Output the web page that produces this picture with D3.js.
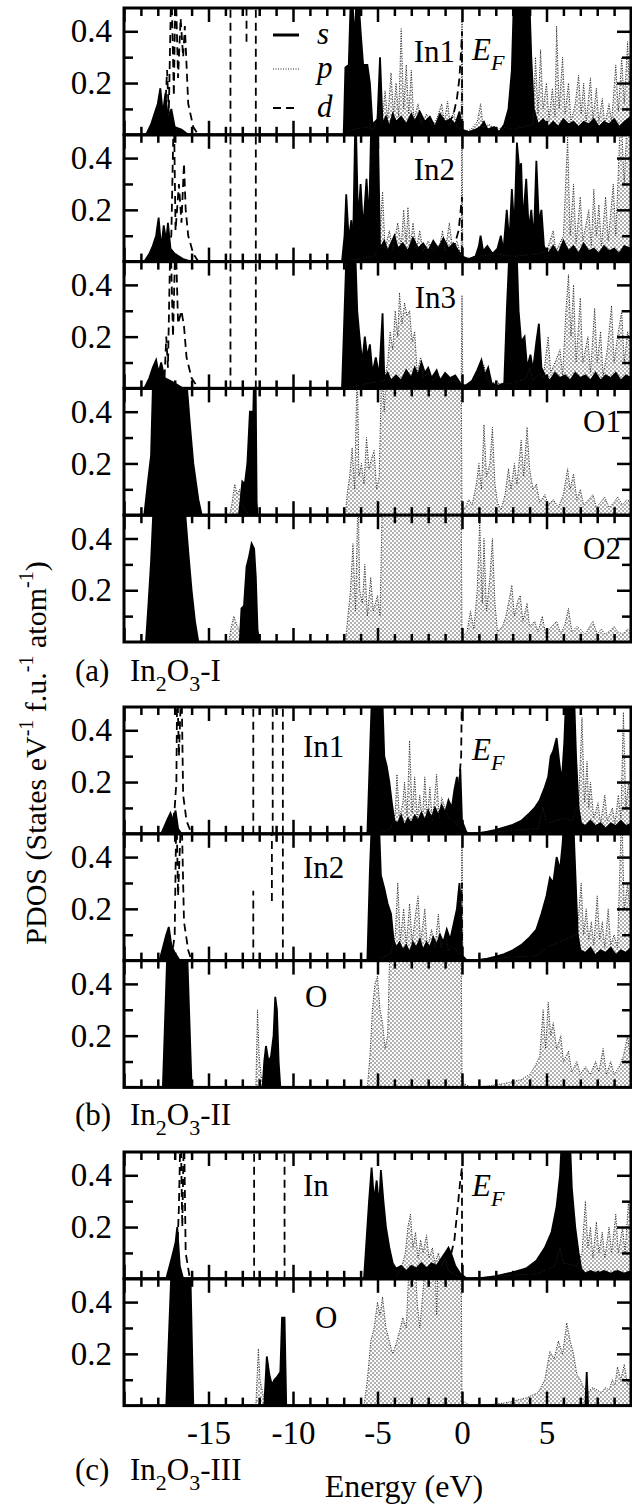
<!DOCTYPE html>
<html>
<head>
<meta charset="utf-8">
<script src="https://cdn.jsdelivr.net/npm/d3@7"></script>
<style>
  body { margin: 0; background: #fff; }
  text { font-family: "Liberation Serif", "Times New Roman", serif; fill: #000; }
  .tick line { stroke: #000; stroke-width: 2.5; }
  .domain { display: none; }
</style>
</head>
<body>
<div id="chart"></div>
<script>
const WIDTH = 632;
const HEIGHT = 1509;

// energy ticks (eV) and PDOS ticks
const majorTicks = [-20, -15, -10, -5, 0, 5, 10];
const minorTicks = [-19,-18,-17,-16,-14,-13,-12,-11,-9,-8,-7,-6,-4,-3,-2,-1,1,2,3,4,6,7,8,9];
const labelTicks = [-15, -10, -5, 0, 5];
const yMajor = [0.2, 0.4];
const yMinor = [0.1, 0.3];

// ---- (a) In2O3-I ----  (d series: null splits a line into pieces)
const a_In1_s = [[-18.7,0],[-18.4,0.04],[-18.2,0.08],[-18.0,0.12],[-17.85,0.18],[-17.7,0.08],[-17.55,0.16],[-17.4,0.06],[-17.2,0.1],[-17.0,0.03],[-16.6,0.02],[-16.2,0],
  [-7.0,0],[-6.9,0.26],[-6.7,0.27],[-6.55,0.6],[-6.35,0.36],[-6.2,0.6],[-6.0,0.4],[-5.85,0.27],[-5.6,0.27],[-5.45,0.2],[-5.3,0.04],[-5.0,0.06],[-4.85,0.3],[-4.7,0.04],[-4.5,0.07],[-4.3,0.03],[-4.1,0.08],[-3.9,0.05],[-3.6,0.07],[-3.3,0.04],[-3.0,0.08],[-2.8,0.05],[-2.5,0.09],[-2.2,0.05],[-1.9,0.07],[-1.6,0.03],[-1.3,0.08],[-1.0,0.05],[-0.7,0.06],[-0.4,0.04],[-0.15,0.09],[0,0.02],[0.4,0.01],[0.8,0.02],[1.1,0.03],[1.3,0.05],[1.5,0.02],[1.9,0.03],[2.2,0.01],[2.5,0.04],[2.75,0.1],[2.95,0.25],[3.1,0.6],[3.95,0.6],[4.1,0.3],[4.25,0.1],[4.5,0.04],[4.8,0.06],[5.1,0.03],[5.4,0.05],[5.7,0.03],[6.0,0.06],[6.3,0.04],[6.6,0.05],[6.9,0.03],[7.2,0.05],[7.5,0.04],[7.8,0.06],[8.1,0.03],[8.4,0.05],[8.7,0.04],[9.0,0.06],[9.3,0.03],[9.6,0.05],[10,0.07]];
const a_In1_p = [[-7.0,0],[-6.5,0.02],[-5.6,0.03],[-5.2,0.02],[-4.9,0.1],[-4.75,0.04],[-4.55,0.17],[-4.4,0.06],[-4.2,0.24],[-4.05,0.08],[-3.9,0.2],[-3.75,0.07],[-3.6,0.41],[-3.45,0.1],[-3.3,0.27],[-3.15,0.08],[-3.0,0.25],[-2.85,0.06],[-2.6,0.12],[-2.4,0.04],[-2.1,0.08],[-1.8,0.04],[-1.5,0.06],[-1.2,0.12],[-1.05,0.05],[-0.85,0.13],[-0.7,0.04],[-0.5,0.09],[-0.3,0.03],[-0.05,0.02],[0,0.6],[0.05,0.01],[0.5,0.02],[0.9,0.05],[1.1,0.12],[1.25,0.03],[1.6,0.04],[2.0,0.02],[2.5,0.03],[3.0,0.02],[4.2,0.04],[4.35,0.3],[4.5,0.08],[4.65,0.33],[4.8,0.1],[5.0,0.2],[5.15,0.06],[5.35,0.18],[5.5,0.07],[5.6,0.42],[5.75,0.1],[5.95,0.3],[6.1,0.08],[6.3,0.2],[6.45,0.05],[6.7,0.12],[6.9,0.23],[7.05,0.08],[7.2,0.2],[7.35,0.05],[7.6,0.22],[7.75,0.06],[7.95,0.18],[8.1,0.05],[8.3,0.14],[8.45,0.04],[8.7,0.12],[8.85,0.05],[9.1,0.27],[9.25,0.09],[9.45,0.3],[9.6,0.12],[9.8,0.36],[9.9,0.2],[10,0.4]];
const a_In1_d = [[-18.0,0],[-17.6,0.04],[-17.45,0.25],[-17.35,0.08],[-17.2,0.6],[-17.05,0.15],[-16.95,0.6],[-16.8,0.22],[-16.65,0.45],[-16.5,0.3],[-16.4,0.42],[-16.2,0.12],[-15.9,0.03],[-15.6,0],
  null,[-13.7,0],[-13.7,0.6],null,[-12.75,0.36],[-12.75,0.6],null,[-12.2,0],[-12.2,0.6],null,
  [-1.2,0],[-0.8,0.04],[-0.5,0.08],[-0.3,0.14],[-0.15,0.22],[-0.05,0.33],[0,0.4],[0,0]];

const a_In2_s = [[-18.8,0],[-18.5,0.03],[-18.3,0.06],[-18.1,0.1],[-17.95,0.17],[-17.8,0.05],[-17.65,0.14],[-17.5,0.08],[-17.4,0.15],[-17.25,0.05],[-17.0,0.03],[-16.5,0.01],[-16.0,0],
  [-7.1,0],[-6.95,0.1],[-6.85,0.26],[-6.7,0.08],[-6.55,0.16],[-6.45,0.05],[-6.3,0.6],[-6.15,0.15],[-6.0,0.3],[-5.85,0.12],[-5.65,0.32],[-5.5,0.15],[-5.35,0.6],[-5.0,0.6],[-4.85,0.05],[-4.6,0.08],[-4.4,0.04],[-4.2,0.07],[-4.0,0.1],[-3.8,0.05],[-3.5,0.07],[-3.2,0.04],[-2.9,0.09],[-2.6,0.05],[-2.3,0.07],[-2.0,0.04],[-1.7,0.08],[-1.4,0.05],[-1.1,0.09],[-0.8,0.05],[-0.5,0.07],[-0.2,0.04],[0,0.02],[0.4,0.01],[0.8,0.02],[1.0,0.06],[1.1,0.1],[1.25,0.04],[1.5,0.06],[1.8,0.03],[2.1,0.05],[2.3,0.1],[2.45,0.04],[2.65,0.2],[2.8,0.07],[2.95,0.28],[3.1,0.12],[3.25,0.46],[3.4,0.35],[3.5,0.38],[3.6,0.15],[3.8,0.32],[3.95,0.12],[4.1,0.2],[4.25,0.08],[4.4,0.39],[4.55,0.15],[4.7,0.2],[4.85,0.06],[5.1,0.03],[5.4,0.06],[5.7,0.03],[6.0,0.08],[6.3,0.04],[6.6,0.06],[6.9,0.03],[7.2,0.07],[7.5,0.04],[7.8,0.05],[8.1,0.03],[8.4,0.06],[8.7,0.04],[9.0,0.05],[9.3,0.03],[9.6,0.06],[10,0.05]];
const a_In2_p = [[-7.0,0],[-5.2,0.02],[-4.9,0.06],[-4.7,0.27],[-4.55,0.05],[-4.3,0.12],[-4.1,0.05],[-3.8,0.15],[-3.6,0.06],[-3.45,0.2],[-3.3,0.07],[-3.2,0.21],[-3.05,0.06],[-2.9,0.15],[-2.7,0.05],[-2.5,0.12],[-2.3,0.04],[-2.0,0.08],[-1.7,0.04],[-1.3,0.07],[-1.15,0.12],[-1.0,0.04],[-0.75,0.15],[-0.55,0.05],[-0.3,0.08],[-0.05,0.02],[0,0.6],[0.05,0.01],[1.0,0.02],[2.0,0.03],[3.0,0.02],[4.5,0.03],[5.0,0.04],[5.4,0.12],[5.55,0.04],[6.0,0.1],[6.25,0.48],[6.4,0.1],[6.6,0.3],[6.75,0.07],[7.0,0.25],[7.15,0.08],[7.5,0.2],[7.65,0.06],[7.8,0.28],[7.95,0.1],[8.1,0.22],[8.25,0.06],[8.5,0.25],[8.65,0.08],[8.95,0.3],[9.1,0.1],[9.4,0.6],[9.6,0.3],[9.8,0.6],[10,0.6]];
const a_In2_d = [[-17.8,0],[-17.4,0.05],[-17.2,0.1],[-17.05,0.6],[-16.95,0.12],[-16.75,0.3],[-16.6,0.15],[-16.45,0.38],[-16.35,0.2],[-16.2,0.1],[-15.9,0.03],[-15.6,0],
  null,[-13.7,0],[-13.7,0.6],null,[-12.2,0],[-12.2,0.6],null,
  [-1.0,0],[-0.5,0.05],[-0.2,0.12],[0,0.25],[0,0]];

const a_In3_s = [[-18.8,0],[-18.5,0.04],[-18.3,0.08],[-18.1,0.11],[-17.95,0.06],[-17.8,0.1],[-17.6,0.04],[-17.3,0.03],[-17.0,0.02],[-16.5,0],
  [-7.1,0],[-6.95,0.3],[-6.8,0.6],[-6.35,0.6],[-6.2,0.3],[-6.05,0.19],[-5.9,0.1],[-5.75,0.2],[-5.6,0.12],[-5.45,0.17],[-5.3,0.06],[-5.1,0.12],[-4.9,0.05],[-4.7,0.29],[-4.6,0.04],[-4.4,0.06],[-4.2,0.03],[-3.9,0.05],[-3.6,0.03],[-3.3,0.07],[-3.0,0.04],[-2.8,0.08],[-2.6,0.05],[-2.4,0.1],[-2.2,0.06],[-2.0,0.08],[-1.8,0.04],[-1.5,0.07],[-1.3,0.03],[-1.0,0.06],[-0.7,0.04],[-0.4,0.05],[-0.1,0.02],[0.2,0.01],[0.6,0.03],[0.9,0.07],[1.15,0.11],[1.35,0.05],[1.55,0.08],[1.75,0.02],[2.1,0.01],[2.5,0.02],[2.65,0.3],[2.85,0.6],[3.2,0.6],[3.35,0.3],[3.5,0.18],[3.7,0.2],[3.85,0.08],[4.05,0.13],[4.2,0.07],[4.4,0.18],[4.55,0.25],[4.7,0.08],[4.9,0.05],[5.2,0.03],[5.5,0.06],[5.8,0.04],[6.1,0.05],[6.4,0.03],[6.7,0.06],[7.0,0.04],[7.3,0.05],[7.6,0.03],[7.9,0.06],[8.2,0.03],[8.5,0.05],[8.8,0.04],[9.1,0.06],[9.4,0.03],[9.7,0.05],[10,0.04]];
const a_In3_p = [[-6.9,0],[-5.5,0.02],[-4.6,0.03],[-4.4,0.1],[-4.25,0.22],[-4.1,0.15],[-3.95,0.3],[-3.8,0.2],[-3.7,0.37],[-3.55,0.25],[-3.4,0.33],[-3.25,0.28],[-3.1,0.3],[-2.95,0.18],[-2.8,0.22],[-2.65,0.06],[-2.45,0.12],[-2.3,0.04],[-2.0,0.06],[-1.7,0.03],[-1.4,0.05],[-1.0,0.02],[-0.5,0.03],[-0.05,0.02],[0,0.36],[0.05,0.01],[0.5,0.02],[1.0,0.05],[1.3,0.09],[1.5,0.03],[2.0,0.02],[3.0,0.02],[3.8,0.04],[4.0,0.08],[4.2,0.03],[4.6,0.06],[4.8,0.04],[5.1,0.2],[5.25,0.06],[5.5,0.1],[5.8,0.15],[5.95,0.05],[6.15,0.3],[6.3,0.44],[6.45,0.2],[6.6,0.4],[6.75,0.1],[7.0,0.35],[7.15,0.1],[7.45,0.2],[7.6,0.06],[7.85,0.31],[8.0,0.1],[8.2,0.22],[8.35,0.05],[8.6,0.15],[8.85,0.32],[9.0,0.1],[9.2,0.2],[9.45,0.3],[9.6,0.1],[9.8,0.22],[10,0.15]];
const a_In3_d = [[-18.0,0],[-17.6,0.04],[-17.5,0.2],[-17.4,0.08],[-17.25,0.6],[-17.1,0.2],[-16.95,0.6],[-16.8,0.25],[-16.6,0.3],[-16.45,0.24],[-16.3,0.12],[-16.0,0.04],[-15.6,0],
  null,[-13.7,0],[-13.7,0.6],null,[-12.2,0],[-12.2,0.6]];

const a_O1_s = [[-18.8,0],[-18.6,0.12],[-18.4,0.23],[-18.25,0.6],[-16.4,0.6],[-16.1,0.35],[-15.9,0.2],[-15.6,0.06],[-15.4,0],
  [-13.2,0],[-13.1,0.06],[-13.0,0.13],[-12.85,0.12],[-12.7,0.2],[-12.55,0.4],[-12.35,0.4],[-12.28,0.6],[-12.22,0.6],[-12.15,0.05],[-12.1,0]];
const a_O1_p = [[-13.75,0],[-13.6,0.05],[-13.45,0.12],[-13.3,0.08],[-13.15,0.1],[-13.0,0.04],[-12.8,0.02],[-12.6,0],
  [-6.9,0],[-6.8,0.08],[-6.65,0.15],[-6.5,0.26],[-6.35,0.1],[-6.2,0.6],[-6.1,0.15],[-5.95,0.2],[-5.8,0.12],[-5.65,0.3],[-5.5,0.18],[-5.35,0.22],[-5.2,0.25],[-5.05,0.1],[-4.9,0.15],[-4.75,0.6],[-4.6,0.4],[-4.45,0.6],[-0.05,0.6],[0,0.02],[0.2,0.03],[0.4,0.06],[0.6,0.04],[0.85,0.12],[1.0,0.2],[1.15,0.1],[1.3,0.35],[1.45,0.15],[1.65,0.2],[1.8,0.34],[1.95,0.12],[2.1,0.05],[2.3,0.02],[2.55,0.08],[2.75,0.18],[2.9,0.1],[3.1,0.2],[3.25,0.12],[3.5,0.29],[3.65,0.15],[3.85,0.34],[4.0,0.18],[4.2,0.1],[4.4,0.12],[4.6,0.05],[4.9,0.08],[5.1,0.04],[5.4,0.06],[5.7,0.03],[6.0,0.08],[6.25,0.18],[6.4,0.1],[6.6,0.16],[6.8,0.06],[7.0,0.1],[7.2,0.04],[7.5,0.06],[7.75,0.08],[7.95,0.03],[8.2,0.05],[8.45,0.07],[8.7,0.03],[9.0,0.05],[9.2,0.07],[9.5,0.04],[9.75,0.06],[10,0.05]];

const a_O2_s = [[-18.7,0],[-18.55,0.15],[-18.4,0.31],[-18.2,0.6],[-16.5,0.6],[-16.2,0.35],[-16.0,0.2],[-15.8,0.08],[-15.6,0],
  [-13.15,0],[-13.05,0.13],[-12.9,0.14],[-12.75,0.29],[-12.6,0.33],[-12.45,0.38],[-12.3,0.36],[-12.2,0.25],[-12.1,0.05],[-12.0,0]];
const a_O2_p = [[-13.8,0],[-13.65,0.06],[-13.5,0.1],[-13.35,0.07],[-13.2,0.05],[-13.0,0.02],[-12.8,0],
  [-6.9,0],[-6.75,0.1],[-6.6,0.2],[-6.45,0.38],[-6.3,0.12],[-6.15,0.6],[-6.05,0.2],[-5.9,0.15],[-5.75,0.3],[-5.6,0.1],[-5.4,0.25],[-5.25,0.12],[-5.0,0.18],[-4.85,0.1],[-4.7,0.6],[-0.05,0.6],[0,0.02],[0.3,0.04],[0.5,0.12],[0.7,0.05],[0.9,0.2],[1.05,0.47],[1.2,0.15],[1.3,0.4],[1.45,0.12],[1.65,0.25],[1.8,0.4],[1.95,0.15],[2.1,0.04],[2.4,0.06],[2.6,0.1],[2.75,0.15],[2.95,0.22],[3.1,0.1],[3.3,0.16],[3.45,0.18],[3.6,0.08],[3.85,0.15],[4.0,0.06],[4.3,0.08],[4.5,0.04],[4.75,0.1],[4.95,0.03],[5.3,0.06],[5.6,0.08],[5.85,0.03],[6.1,0.07],[6.3,0.13],[6.5,0.04],[6.8,0.06],[7.0,0.05],[7.3,0.03],[7.55,0.06],[7.75,0.08],[8.0,0.03],[8.25,0.05],[8.45,0.03],[8.7,0.04],[9.0,0.06],[9.2,0.04],[9.5,0.03],[9.8,0.05],[10,0.04]];

// ---- (b) In2O3-II ----
const b_In1_s = [[-17.8,0],[-17.6,0.03],[-17.4,0.06],[-17.25,0.08],[-17.1,0.05],[-16.95,0.09],[-16.8,0.02],[-16.6,0],
  [-5.6,0],[-5.45,0.3],[-5.3,0.6],[-4.75,0.6],[-4.6,0.3],[-4.45,0.26],[-4.3,0.2],[-4.15,0.12],[-4.0,0.05],[-3.8,0.04],[-3.6,0.07],[-3.4,0.03],[-3.2,0.06],[-3.0,0.04],[-2.8,0.07],[-2.6,0.05],[-2.4,0.08],[-2.2,0.05],[-2.0,0.09],[-1.8,0.06],[-1.6,0.1],[-1.4,0.07],[-1.2,0.11],[-1.0,0.08],[-0.8,0.13],[-0.6,0.1],[-0.45,0.17],[-0.3,0.22],[-0.2,0.14],[-0.1,0.25],[0,0.05],[0.3,0],[1.0,0.003],[1.5,0.008],[2.0,0.015],[2.5,0.025],[3.0,0.035],[3.5,0.05],[4.0,0.08],[4.3,0.1],[4.6,0.13],[4.9,0.18],[5.1,0.22],[5.25,0.3],[5.4,0.32],[5.6,0.37],[5.75,0.28],[5.9,0.2],[6.05,0.35],[6.2,0.6],[6.6,0.6],[6.75,0.3],[6.9,0.1],[7.05,0.04],[7.3,0.03],[7.6,0.05],[7.9,0.03],[8.2,0.04],[8.5,0.02],[8.8,0.04],[9.1,0.03],[9.4,0.05],[9.7,0.03],[10,0.04]];
const b_In1_p = [[-5.0,0],[-4.2,0.02],[-3.95,0.08],[-3.85,0.23],[-3.7,0.06],[-3.5,0.12],[-3.4,0.2],[-3.25,0.07],[-3.1,0.36],[-2.95,0.08],[-2.8,0.22],[-2.65,0.06],[-2.5,0.15],[-2.35,0.05],[-2.2,0.22],[-2.05,0.06],[-1.9,0.18],[-1.75,0.05],[-1.5,0.23],[-1.35,0.06],[-1.2,0.14],[-1.0,0.1],[-0.8,0.06],[-0.5,0.05],[-0.2,0.03],[0,0.02],[0.5,0],[4.5,0.02],[4.8,0.1],[5.0,0.04],[5.5,0.05],[6.0,0.06],[6.5,0.05],[6.9,0.12],[7.1,0.45],[7.25,0.12],[7.4,0.28],[7.5,0.1],[7.6,0.2],[7.8,0.06],[8.05,0.12],[8.2,0.04],[8.45,0.15],[8.6,0.05],[8.9,0.1],[9.05,0.04],[9.25,0.15],[9.4,0.06],[9.55,0.47],[9.7,0.1],[9.85,0.2],[10,0.12]];
const b_In1_d = [[-17.2,0],[-17.0,0.1],[-16.9,0.2],[-16.85,0.6],[-16.75,0.3],[-16.6,0.6],[-16.5,0.15],[-16.3,0.05],[-16.0,0],
  null,[-12.35,0],[-12.35,0.6],null,[-11.2,0],[-11.2,0.6],null,[-10.6,0],[-10.6,0.6],null,
  [-1.0,0],[-0.3,0.1],[-0.05,0.3],[0,0.6]];

const b_In2_s = [[-17.9,0],[-17.7,0.05],[-17.5,0.1],[-17.35,0.13],[-17.2,0.06],[-17.0,0.03],[-16.7,0],
  [-5.6,0],[-5.45,0.35],[-5.3,0.6],[-4.95,0.6],[-4.8,0.33],[-4.6,0.28],[-4.4,0.22],[-4.2,0.18],[-4.05,0.08],[-3.9,0.05],[-3.7,0.07],[-3.5,0.04],[-3.3,0.06],[-3.1,0.03],[-2.9,0.07],[-2.7,0.05],[-2.5,0.08],[-2.3,0.04],[-2.1,0.07],[-1.9,0.05],[-1.7,0.09],[-1.5,0.06],[-1.3,0.1],[-1.1,0.07],[-0.9,0.12],[-0.7,0.08],[-0.5,0.14],[-0.3,0.2],[-0.15,0.3],[-0.05,0.18],[0,0.02],[0.3,0],[1.0,0.003],[1.5,0.008],[2.0,0.015],[2.5,0.025],[3.0,0.04],[3.5,0.06],[4.0,0.09],[4.4,0.12],[4.7,0.18],[5.0,0.25],[5.2,0.32],[5.4,0.3],[5.6,0.4],[5.8,0.35],[5.95,0.45],[6.1,0.6],[6.55,0.6],[6.7,0.35],[6.85,0.1],[7.0,0.04],[7.3,0.03],[7.6,0.05],[7.9,0.02],[8.2,0.04],[8.5,0.03],[8.8,0.05],[9.1,0.02],[9.4,0.04],[9.7,0.03],[10,0.05]];
const b_In2_p = [[-5.0,0],[-4.2,0.03],[-3.95,0.1],[-3.8,0.3],[-3.65,0.08],[-3.45,0.2],[-3.3,0.06],[-3.1,0.22],[-2.95,0.07],[-2.75,0.18],[-2.6,0.25],[-2.45,0.07],[-2.2,0.2],[-2.05,0.05],[-1.8,0.12],[-1.6,0.05],[-1.4,0.18],[-1.25,0.05],[-1.0,0.1],[-0.8,0.04],[-0.5,0.05],[-0.05,0.02],[0,0.6],[0.05,0],[4.5,0.02],[5.0,0.05],[6.0,0.08],[6.8,0.1],[7.05,0.3],[7.2,0.1],[7.35,0.2],[7.5,0.08],[7.65,0.15],[7.8,0.06],[8.0,0.25],[8.15,0.08],[8.3,0.15],[8.45,0.05],[8.65,0.2],[8.8,0.06],[9.0,0.1],[9.2,0.05],[9.45,0.6],[9.6,0.2],[9.8,0.3],[10,0.15]];
const b_In2_d = [[-17.2,0],[-17.0,0.1],[-16.9,0.6],[-16.8,0.25],[-16.6,0.6],[-16.45,0.15],[-16.2,0.04],[-16.0,0],
  null,[-12.35,0],[-12.35,0.27],null,[-11.25,0.23],[-11.25,0.6],null,[-10.6,0],[-10.6,0.6],null,
  [-1.0,0],[-0.4,0.08],[-0.1,0.22],[0,0.3],[0,0]];

const b_O_s = [[-17.7,0],[-17.55,0.3],[-17.4,0.6],[-16.3,0.6],[-16.15,0.3],[-16.0,0],
  [-11.8,0],[-11.7,0.1],[-11.6,0.16],[-11.45,0.1],[-11.3,0.12],[-11.15,0.2],[-11.05,0.35],[-10.95,0.3],[-10.85,0.1],[-10.75,0]];
const b_O_p = [[-12.2,0],[-12.1,0.3],[-12.0,0.12],[-11.9,0.05],[-11.7,0],
  [-5.6,0],[-5.45,0.12],[-5.3,0.3],[-5.15,0.4],[-5.0,0.43],[-4.85,0.3],[-4.7,0.25],[-4.55,0.15],[-4.4,0.2],[-4.25,0.6],[-0.05,0.6],[0,0.02],[0.5,0],[1.5,0.005],[2.5,0.015],[3.5,0.03],[4.0,0.05],[4.3,0.08],[4.6,0.12],[4.8,0.3],[4.95,0.15],[5.1,0.33],[5.25,0.2],[5.4,0.25],[5.6,0.15],[5.85,0.2],[6.0,0.1],[6.3,0.14],[6.5,0.06],[6.8,0.1],[7.0,0.05],[7.3,0.08],[7.6,0.05],[7.9,0.1],[8.1,0.06],[8.35,0.15],[8.55,0.05],[8.8,0.1],[9.0,0.05],[9.3,0.08],[9.55,0.12],[9.8,0.2],[10,0.1]];

// ---- (c) In2O3-III ----
const c_In_s = [[-17.5,0],[-17.3,0.05],[-17.1,0.1],[-16.95,0.14],[-16.85,0.2],[-16.7,0.05],[-16.5,0],
  [-5.8,0],[-5.65,0.15],[-5.5,0.3],[-5.35,0.43],[-5.2,0.3],[-5.05,0.38],[-4.9,0.28],[-4.8,0.42],[-4.65,0.3],[-4.5,0.2],[-4.3,0.12],[-4.1,0.06],[-3.9,0.04],[-3.6,0.05],[-3.3,0.03],[-3.0,0.05],[-2.7,0.04],[-2.4,0.06],[-2.1,0.04],[-1.8,0.06],[-1.5,0.05],[-1.2,0.08],[-1.0,0.1],[-0.8,0.12],[-0.6,0.09],[-0.4,0.05],[-0.1,0.02],[0.3,0],[1.0,0.002],[2.0,0.01],[3.0,0.025],[3.8,0.04],[4.4,0.07],[4.9,0.12],[5.3,0.18],[5.6,0.28],[5.8,0.4],[5.95,0.6],[6.35,0.6],[6.5,0.35],[6.7,0.2],[6.9,0.1],[7.05,0.04],[7.3,0.02],[7.6,0.03],[8.0,0.02],[8.4,0.03],[8.8,0.02],[9.2,0.03],[9.6,0.02],[10,0.03]];
const c_In_p = [[-4.0,0],[-3.6,0.04],[-3.35,0.1],[-3.2,0.2],[-3.05,0.25],[-2.9,0.12],[-2.75,0.18],[-2.6,0.08],[-2.45,0.15],[-2.3,0.1],[-2.1,0.17],[-1.95,0.08],[-1.75,0.12],[-1.6,0.06],[-1.4,0.1],[-1.2,0.05],[-1.0,0.08],[-0.8,0.03],[-0.5,0.02],[0,0],[4.5,0.02],[5.5,0.05],[5.8,0.12],[6.0,0.06],[6.8,0.05],[7.1,0.1],[7.3,0.3],[7.45,0.12],[7.6,0.2],[7.75,0.08],[7.95,0.22],[8.1,0.1],[8.3,0.18],[8.45,0.08],[8.7,0.2],[8.85,0.1],[9.1,0.25],[9.25,0.1],[9.5,0.2],[9.65,0.1],[9.85,0.3],[10,0.2]];
const c_In_d = [[-17.0,0],[-16.85,0.1],[-16.75,0.28],[-16.65,0.6],[-16.55,0.2],[-16.45,0.6],[-16.35,0.1],[-16.1,0],
  null,[-12.3,0],[-12.3,0.6],null,[-10.5,0],[-10.5,0.6],null,
  [-1.0,0],[-0.7,0.08],[-0.45,0.15],[-0.25,0.28],[-0.1,0.38],[0,0.43],[0,0]];

const c_O_s = [[-17.5,0],[-17.15,0.6],[-16.1,0.6],[-15.9,0],
  [-11.7,0],[-11.55,0.19],[-11.4,0.12],[-11.25,0.08],[-11.1,0.1],[-10.95,0.11],[-10.75,0.13],[-10.65,0.34],[-10.5,0.34],[-10.4,0],
  [7.3,0],[7.38,0.13],[7.46,0]];
const c_O_p = [[-12.2,0],[-12.05,0.22],[-11.95,0.1],[-11.8,0.05],[-11.6,0],
  [-5.8,0],[-5.6,0.1],[-5.4,0.25],[-5.2,0.3],[-5.0,0.4],[-4.85,0.35],[-4.7,0.42],[-4.5,0.3],[-4.3,0.25],[-4.1,0.2],[-3.85,0.25],[-3.65,0.3],[-3.5,0.34],[-3.3,0.3],[-3.1,0.6],[-2.8,0.6],[-2.65,0.4],[-2.5,0.3],[-2.3,0.45],[-2.1,0.6],[-1.6,0.6],[-1.5,0.35],[-1.4,0.6],[-0.05,0.6],[0,0.02],[0.5,0],[1.5,0.003],[2.5,0.01],[3.2,0.02],[3.8,0.03],[4.5,0.05],[4.9,0.1],[5.2,0.21],[5.45,0.18],[5.7,0.25],[5.95,0.2],[6.2,0.32],[6.4,0.25],[6.6,0.2],[6.8,0.12],[7.0,0.1],[7.2,0.07],[7.45,0.05],[7.7,0.07],[8.0,0.06],[8.25,0.05],[8.5,0.07],[8.7,0.06],[8.9,0.1],[9.05,0.08],[9.2,0.15],[9.4,0.1],[9.6,0.16],[9.8,0.08],[10,0.12]];

// panel layout (group tops in px, label placement)
const groups = [
  { top: 8,    n: 5, title: ["(a)", "I"],   titleY: 681 },
  { top: 707,  n: 3, title: ["(b)", "II"],  titleY: 1125 },
  { top: 1152, n: 2, title: ["(c)", "III"], titleY: 1480 }
];
const PANEL_H = 126.8;

const panels = [
  { g: 0, i: 0, name: "In1", s: a_In1_s, p: a_In1_p, d: a_In1_d, lx: 455, anchor: "end",   ly: 54, ef: 52 },
  { g: 0, i: 1, name: "In2", s: a_In2_s, p: a_In2_p, d: a_In2_d, lx: 455, anchor: "end",   ly: 45 },
  { g: 0, i: 2, name: "In3", s: a_In3_s, p: a_In3_p, d: a_In3_d, lx: 456, anchor: "end",   ly: 46 },
  { g: 0, i: 3, name: "O1",  s: a_O1_s,  p: a_O1_p,  d: [],      lx: 621, anchor: "end",   ly: 44 },
  { g: 0, i: 4, name: "O2",  s: a_O2_s,  p: a_O2_p,  d: [],      lx: 621, anchor: "end",   ly: 44 },
  { g: 1, i: 0, name: "In1", s: b_In1_s, p: b_In1_p, d: b_In1_d, lx: 303, anchor: "start", ly: 50, ef: 53 },
  { g: 1, i: 1, name: "In2", s: b_In2_s, p: b_In2_p, d: b_In2_d, lx: 303, anchor: "start", ly: 44 },
  { g: 1, i: 2, name: "O",   s: b_O_s,   p: b_O_p,   d: [],      lx: 305, anchor: "start", ly: 46 },
  { g: 2, i: 0, name: "In",  s: c_In_s,  p: c_In_p,  d: c_In_d,  lx: 303, anchor: "start", ly: 44, ef: 44 },
  { g: 2, i: 1, name: "O",   s: c_O_s,   p: c_O_p,   d: [],      lx: 315, anchor: "start", ly: 49 }
];

const svg = d3.select("#chart").append("svg")
  .attr("width", WIDTH)
  .attr("height", HEIGHT);

// stipple pattern for p states
const defs = svg.append("defs");
const pat = defs.append("pattern")
  .attr("id", "dots")
  .attr("width", 4).attr("height", 4)
  .attr("patternUnits", "userSpaceOnUse");
pat.append("rect").attr("width", 4).attr("height", 4).attr("fill", "#fff");
pat.append("circle").attr("cx", 1).attr("cy", 1).attr("r", 0.75).attr("fill", "#3a3a3a");
pat.append("circle").attr("cx", 3).attr("cy", 3).attr("r", 0.75).attr("fill", "#3a3a3a");

const x = d3.scaleLinear().domain([-20, 10]).range([124, 631]);

panels.forEach((pn, k) => {
  const top = groups[pn.g].top + pn.i * PANEL_H;
  const bottom = top + PANEL_H;
  const y = d3.scaleLinear().domain([0, 0.49]).range([bottom, top]);

  defs.append("clipPath").attr("id", "clip" + k)
    .append("rect")
    .attr("x", x.range()[0]).attr("y", top)
    .attr("width", x.range()[1] - x.range()[0]).attr("height", PANEL_H);

  const g = svg.append("g").attr("clip-path", `url(#clip${k})`);
  const area = d3.area().x(d => x(d[0])).y0(y(0)).y1(d => y(d[1]));
  const line = d3.line().defined(d => d !== null).x(d => x(d[0])).y(d => y(d[1]));

  g.append("path").attr("d", area(pn.p)).attr("fill", "url(#dots)");
  g.append("path").attr("d", area(pn.s)).attr("fill", "#000");
  g.append("path").attr("d", line(pn.p))
    .attr("fill", "none").attr("stroke", "#222").attr("stroke-width", 1)
    .attr("stroke-dasharray", "1,1.5");
  g.append("path").attr("d", line(pn.s))
    .attr("fill", "none").attr("stroke", "#000").attr("stroke-width", 1.8);
  if (pn.d.length) {
    g.append("path").attr("d", line(pn.d))
      .attr("fill", "none").attr("stroke", "#000").attr("stroke-width", 1.8)
      .attr("stroke-dasharray", "8,5");
  }

  // inward ticks on all four sides
  const ax = svg.append("g");
  ax.append("g").attr("transform", `translate(0,${bottom})`)
    .call(d3.axisBottom(x).tickValues(majorTicks).tickSize(-14).tickSizeOuter(0).tickFormat(""));
  ax.append("g").attr("transform", `translate(0,${bottom})`)
    .call(d3.axisBottom(x).tickValues(minorTicks).tickSize(-8).tickSizeOuter(0).tickFormat(""));
  ax.append("g").attr("transform", `translate(0,${top})`)
    .call(d3.axisTop(x).tickValues(majorTicks).tickSize(-14).tickSizeOuter(0).tickFormat(""));
  ax.append("g").attr("transform", `translate(0,${top})`)
    .call(d3.axisTop(x).tickValues(minorTicks).tickSize(-8).tickSizeOuter(0).tickFormat(""));

  ax.append("g").attr("transform", `translate(${x.range()[0]},0)`)
    .call(d3.axisLeft(y).tickValues(yMajor).tickSize(-14).tickSizeOuter(0)
      .tickPadding(12).tickFormat(d3.format(".1f")))
    .selectAll("text").attr("font-size", 33).attr("font-family", "Liberation Serif");
  ax.append("g").attr("transform", `translate(${x.range()[0]},0)`)
    .call(d3.axisLeft(y).tickValues(yMinor).tickSize(-9).tickSizeOuter(0).tickFormat(""));
  ax.append("g").attr("transform", `translate(${x.range()[1]},0)`)
    .call(d3.axisRight(y).tickValues(yMajor).tickSize(-14).tickSizeOuter(0).tickFormat(""));
  ax.append("g").attr("transform", `translate(${x.range()[1]},0)`)
    .call(d3.axisRight(y).tickValues(yMinor).tickSize(-9).tickSizeOuter(0).tickFormat(""));

  // frame
  svg.append("rect")
    .attr("x", x.range()[0]).attr("y", top)
    .attr("width", x.range()[1] - x.range()[0]).attr("height", PANEL_H)
    .attr("fill", "none").attr("stroke", "#000").attr("stroke-width", 3);

  // panel label
  svg.append("text")
    .attr("x", pn.lx).attr("y", top + pn.ly)
    .attr("text-anchor", pn.anchor)
    .attr("font-size", 31)
    .text(pn.name);

  if (pn.ef) {
    const ef = svg.append("text").attr("x", 472).attr("y", top + pn.ef)
      .attr("font-size", 31).attr("font-style", "italic");
    ef.append("tspan").text("E");
    ef.append("tspan").attr("dy", 10).attr("font-size", 22).text("F");
  }

  // energy labels on the very last panel
  if (k === panels.length - 1) {
    svg.append("g").attr("transform", `translate(0,${bottom})`)
      .call(d3.axisBottom(x).tickValues(labelTicks).tickSize(0).tickPadding(15)
        .tickFormat(d => String(d)))
      .selectAll("text").attr("font-size", 33).attr("font-family", "Liberation Serif");
  }
});

// legend in the first panel
const legendItems = [
  { key: "s", y: 35, dash: null, w: 3, color: "#000" },
  { key: "p", y: 69, dash: "1,1.5", w: 1, color: "#222" },
  { key: "d", y: 108, dash: "8,5", w: 1.8, color: "#000" }
];
legendItems.forEach(it => {
  svg.append("line")
    .attr("x1", 273).attr("x2", 299).attr("y1", it.y).attr("y2", it.y)
    .attr("stroke", it.color).attr("stroke-width", it.w)
    .attr("stroke-dasharray", it.dash);
  svg.append("text")
    .attr("x", 317).attr("y", it.y + 9)
    .attr("font-size", 31).attr("font-style", "italic")
    .text(it.key);
});

// group titles
groups.forEach(gr => {
  svg.append("text").attr("x", 75).attr("y", gr.titleY).attr("font-size", 31).text(gr.title[0]);
  const t = svg.append("text").attr("x", 130).attr("y", gr.titleY).attr("font-size", 31);
  t.append("tspan").text("In");
  t.append("tspan").attr("dy", 10).attr("font-size", 22).text("2");
  t.append("tspan").attr("dy", -10).text("O");
  t.append("tspan").attr("dy", 10).attr("font-size", 22).text("3");
  t.append("tspan").attr("dy", -10).text("-" + gr.title[1]);
});

// axis titles
svg.append("text")
  .attr("x", 404).attr("y", 1497)
  .attr("text-anchor", "middle")
  .attr("font-size", 32)
  .text("Energy (eV)");

const yl = svg.append("text")
  .attr("transform", "translate(46,753) rotate(-90)")
  .attr("text-anchor", "middle")
  .attr("font-size", 30);
yl.append("tspan").text("PDOS (States eV");
yl.append("tspan").attr("dy", -13).attr("font-size", 20).text("-1");
yl.append("tspan").attr("dy", 13).text(" f.u.");
yl.append("tspan").attr("dy", -13).attr("font-size", 20).text("-1");
yl.append("tspan").attr("dy", 13).text(" atom");
yl.append("tspan").attr("dy", -13).attr("font-size", 20).text("-1");
yl.append("tspan").attr("dy", 13).text(")");
</script>
</body>
</html>
